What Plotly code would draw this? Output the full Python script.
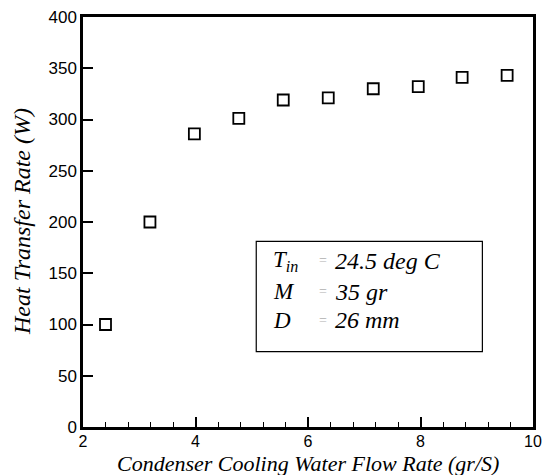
import plotly.graph_objects as go

flow_rate = [2.4, 3.19, 3.98, 4.77, 5.56, 6.36, 7.16, 7.96, 8.74, 9.54]
heat_rate = [100, 200, 286, 301, 319, 321, 330, 332, 341, 343]

x_ticks = [2, 4, 6, 8, 10]
y_ticks = [0, 50, 100, 150, 200, 250, 300, 350, 400]

info_labels = ["<i>T</i><sub><i>in</i></sub>", "<i>M</i>", "<i>D</i>"]
info_values = ["<i>24.5 deg C</i>", "<i>35 gr</i>", "<i>26 mm</i>"]
info_y = [162, 132, 104]

x_title = "<i>Condenser Cooling Water Flow Rate (gr/S)</i>"
y_title = "<i>Heat Transfer Rate (W)</i>"

serif = "Liberation Serif, Times New Roman, serif"
sans = "Liberation Sans, Arial, sans-serif"

fig = go.Figure()
fig.add_trace(go.Scatter(
    x=flow_rate, y=heat_rate, mode="markers",
    marker=dict(symbol="square-open", size=11, color="black",
                line=dict(width=1.8, color="black")),
    showlegend=False,
))

# info box
fig.add_shape(type="rect", xref="x", yref="y", x0=5.08, x1=9.1, y0=73.5, y1=181,
              line=dict(color="black", width=1.2), fillcolor="rgba(0,0,0,0)")
for lab, val, yy in zip(info_labels, info_values, info_y):
    fig.add_annotation(x=5.35, y=yy, xref="x", yref="y", text=lab, showarrow=False,
                       xanchor="left", yanchor="middle",
                       font=dict(family=serif, size=23, color="black"))
    fig.add_annotation(x=6.27, y=yy, xref="x", yref="y", text="=", showarrow=False,
                       xanchor="center", yanchor="middle",
                       font=dict(family=serif, size=14, color="#b0b0b0"))
    fig.add_annotation(x=6.45, y=yy, xref="x", yref="y", text=val, showarrow=False,
                       xanchor="left", yanchor="middle",
                       font=dict(family=serif, size=24, color="black"))

# axis titles
fig.add_annotation(x=0.5, y=0.0, xref="paper", yref="paper", yshift=-36,
                   text=x_title, showarrow=False, xanchor="center", yanchor="middle",
                   font=dict(family=serif, size=22, color="black"))
fig.add_annotation(x=0, y=0.5, xref="paper", yref="paper", xshift=-61,
                   text=y_title, showarrow=False, textangle=-90,
                   xanchor="center", yanchor="middle",
                   font=dict(family=serif, size=24, color="black"))

fig.update_layout(
    width=548, height=475,
    margin=dict(l=83, r=15, t=17, b=48),
    paper_bgcolor="white", plot_bgcolor="white",
    xaxis=dict(
        range=[2, 10], tickvals=x_ticks, ticktext=[str(v) for v in x_ticks],
        ticks="inside", ticklen=10, tickwidth=1.5, tickcolor="black",
        minor=dict(dtick=0.4, ticks="inside", ticklen=5, tickwidth=1, tickcolor="black"),
        showline=True, linecolor="black", linewidth=2.5, mirror=True,
        showgrid=False, zeroline=False, automargin=False,
        tickfont=dict(family=sans, size=16, color="black"),
        ticklabelstandoff=-2,
    ),
    yaxis=dict(
        range=[0, 400], tickvals=y_ticks, ticktext=[str(v) for v in y_ticks],
        ticks="inside", ticklen=10, tickwidth=1.5, tickcolor="black",
        showline=True, linecolor="black", linewidth=2.5, mirror=True,
        showgrid=False, zeroline=False, automargin=False,
        tickfont=dict(family=sans, size=17, color="black"),
    ),
)

fig.write_html(
    "out.html",
    config={"displayModeBar": False},
    post_script="document.body.style.margin='0';document.body.style.overflow='hidden';",
)
